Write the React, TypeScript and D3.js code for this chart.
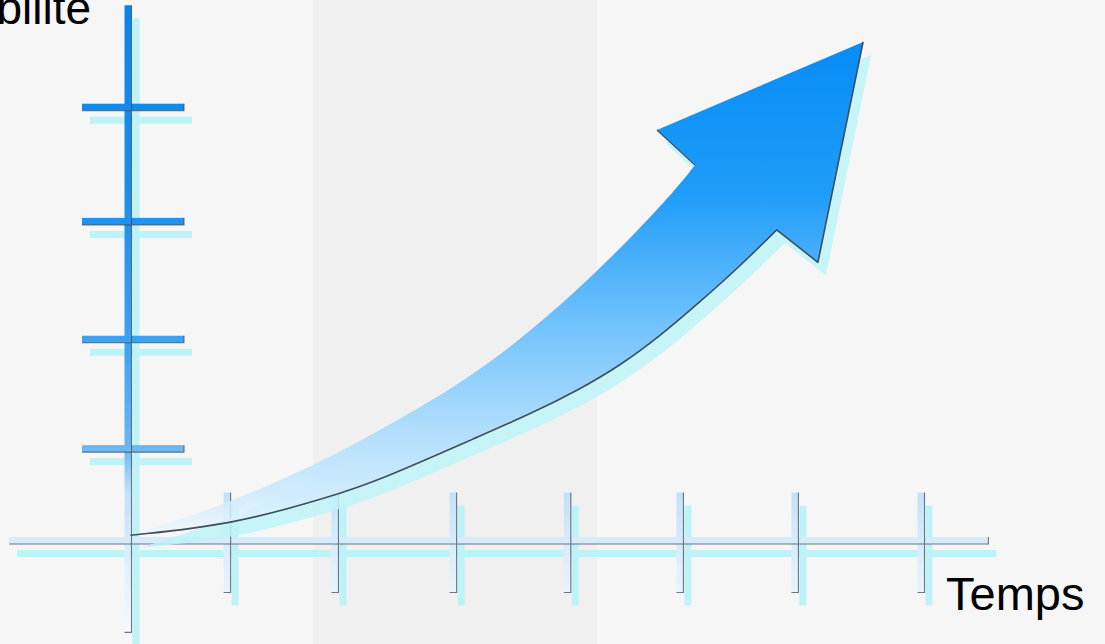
import React from "react";
import * as d3 from "d3";

// ---- data ----
const xTicks = [12.5, 26.1, 41, 55.4, 69.6, 84.1, 100];
const yTicks = [17.3, 37.9, 60.1, 81.6];
const xAxisExtent = [-15, 108.5];
const yAxisExtent = [-17.3, 100.8];
const yLabel = "Rentabilité";
const xLabel = "Temps";

// arrow body edges: [time, value]
const upperEdge: [number, number][] = [
  [0.3, 1.0], [11.6, 6.3], [24.2, 14.6], [31.8, 20.8], [44.4, 31.5],
  [57.0, 47.2], [68.0, 64.1], [71.5, 70.7],
];
const lowerEdge: [number, number][] = [
  [0.3, 1.0], [12.9, 2.9], [25.5, 8.2], [31.8, 11.4], [44.4, 19.7], [50.7, 23.8],
  [57.0, 28.5], [62.0, 32.9], [67.1, 38.5], [72.1, 44.9], [77.2, 51.7], [81.8, 58.5],
];
const headLeftBarb: [number, number] = [66.7, 77.3];
const headTip: [number, number] = [92.7, 93.9];
const headRightBarb: [number, number] = [87.0, 52.4];

const W = 1105;
const H = 644;

export default function App() {
  const x = d3.scaleLinear().domain([0, 100]).range([128, 921]);
  const y = d3.scaleLinear().domain([0, 100]).range([540.5, 9.5]);

  const line = d3
    .line<[number, number]>()
    .x((d) => x(d[0]))
    .y((d) => y(d[1]))
    .curve(d3.curveBasis);

  const upperPath = line(upperEdge) || "";
  const lowerRev = (line([...lowerEdge].reverse()) || "").replace(/^M/, "L");
  const P = (p: [number, number]) => `${x(p[0])},${y(p[1])}`;
  const arrowPath =
    upperPath +
    `L${P(headLeftBarb)}L${P(headTip)}L${P(headRightBarb)}` +
    lowerRev +
    "Z";
  const lowerPath = line(lowerEdge) || "";
  const darkEdge = lowerPath + `L${P(headRightBarb)}L${P(headTip)}`;
  const leftNotch = upperEdge[upperEdge.length - 1];
  const darkNotch = `M${P(headLeftBarb)}L${P(leftNotch)}`;

  const T = 7; // bar thickness
  const SX = 8;
  const SY = 13;
  const shadow = "#bdf3f7";
  const dark = "#3f4d5c";

  const x0 = x(0);
  const y0 = y(0);

  const bars = (fill: string, dx: number, dy: number, withEdges: boolean) => (
    <g transform={`translate(${dx},${dy})`}>
      <rect
        x={x(xAxisExtent[0])}
        y={y0 - T / 2}
        width={x(xAxisExtent[1]) - x(xAxisExtent[0])}
        height={T}
        fill={fill}
      />
      {xTicks.map((t, i) => (
        <rect key={"xt" + i} x={x(t) - T / 2} y={y0 - 48} width={T} height={100} fill={fill} />
      ))}
      <rect
        x={x0 - T / 2}
        y={y(yAxisExtent[1])}
        width={T}
        height={y(yAxisExtent[0]) - y(yAxisExtent[1])}
        fill={fill}
      />
      {yTicks.map((v, i) => (
        <rect key={"yt" + i} x={x0 - 46} y={y(v) - T / 2} width={102} height={T} fill={fill} />
      ))}
      {withEdges && (
        <g stroke={dark} strokeWidth={1.1} fill="none" opacity={0.75}>
          <path
            d={`M${x(xAxisExtent[0])},${y0 + T / 2}H${x(xAxisExtent[1])}V${y0 - T / 2}`}
          />
          {xTicks.map((t, i) => (
            <path
              key={"xe" + i}
              d={`M${x(t) + T / 2},${y0 - 48}V${y0 + 52}H${x(t) - T / 2}`}
            />
          ))}
          <path
            d={`M${x0 + T / 2},${y(yAxisExtent[1])}V${y(yAxisExtent[0])}H${x0 - T / 2}`}
          />
          {yTicks.map((v, i) => (
            <path
              key={"ye" + i}
              d={`M${x0 - 46},${y(v) + T / 2}H${x0 + 56}V${y(v) - T / 2}`}
            />
          ))}
        </g>
      )}
    </g>
  );

  return (
    <svg
      width={W}
      height={H}
      viewBox={`0 0 ${W} ${H}`}
      style={{ position: "absolute", left: 0, top: 0, display: "block" }}
      fontFamily="'Liberation Sans', Arial, sans-serif"
    >
      <defs>
        <linearGradient id="axisGrad" gradientUnits="userSpaceOnUse" x1={0} y1={0} x2={0} y2={640}>
          <stop offset="0" stopColor="#0a84ec" />
          <stop offset="0.3" stopColor="#1a8eee" />
          <stop offset="0.55" stopColor="#3fa3f1" />
          <stop offset="0.7" stopColor="#6ab7f3" />
          <stop offset="0.77" stopColor="#c2e1fa" />
          <stop offset="0.85" stopColor="#d8ecfb" />
          <stop offset="1" stopColor="#f8fbff" />
        </linearGradient>
        <linearGradient id="arrowGrad" gradientUnits="userSpaceOnUse" x1={0} y1={42} x2={0} y2={540}>
          <stop offset="0" stopColor="#078cf6" />
          <stop offset="0.3" stopColor="#1e9cf8" />
          <stop offset="0.55" stopColor="#6cc0fc" />
          <stop offset="0.75" stopColor="#a8dafc" />
          <stop offset="0.92" stopColor="#d3ecfd" stopOpacity={0.9} />
          <stop offset="1" stopColor="#eef7ff" stopOpacity={0.6} />
        </linearGradient>
      </defs>

      <rect x={0} y={0} width={W} height={H} fill="#f6f6f6" />
      <rect x={313} y={-30} width={284} height={H + 60} rx={28} fill="#f0f0f0" />

      {bars(shadow, SX, SY, false)}
      {bars("url(#axisGrad)", 0, 0, true)}

      <path d={arrowPath} transform={`translate(${SX},${SY})`} fill={shadow} opacity={0.85} />
      <path d={arrowPath} fill="url(#arrowGrad)" />
      <path d={darkEdge} fill="none" stroke={dark} strokeWidth={1.6} strokeLinejoin="round" />
      <path d={darkNotch} fill="none" stroke={dark} strokeWidth={1.2} />

      <text x={91} y={24} fontSize={46} textAnchor="end" fill="#000">
        {yLabel}
      </text>
      <text x={946} y={610} fontSize={47} fill="#000">
        {xLabel}
      </text>
    </svg>
  );
}
